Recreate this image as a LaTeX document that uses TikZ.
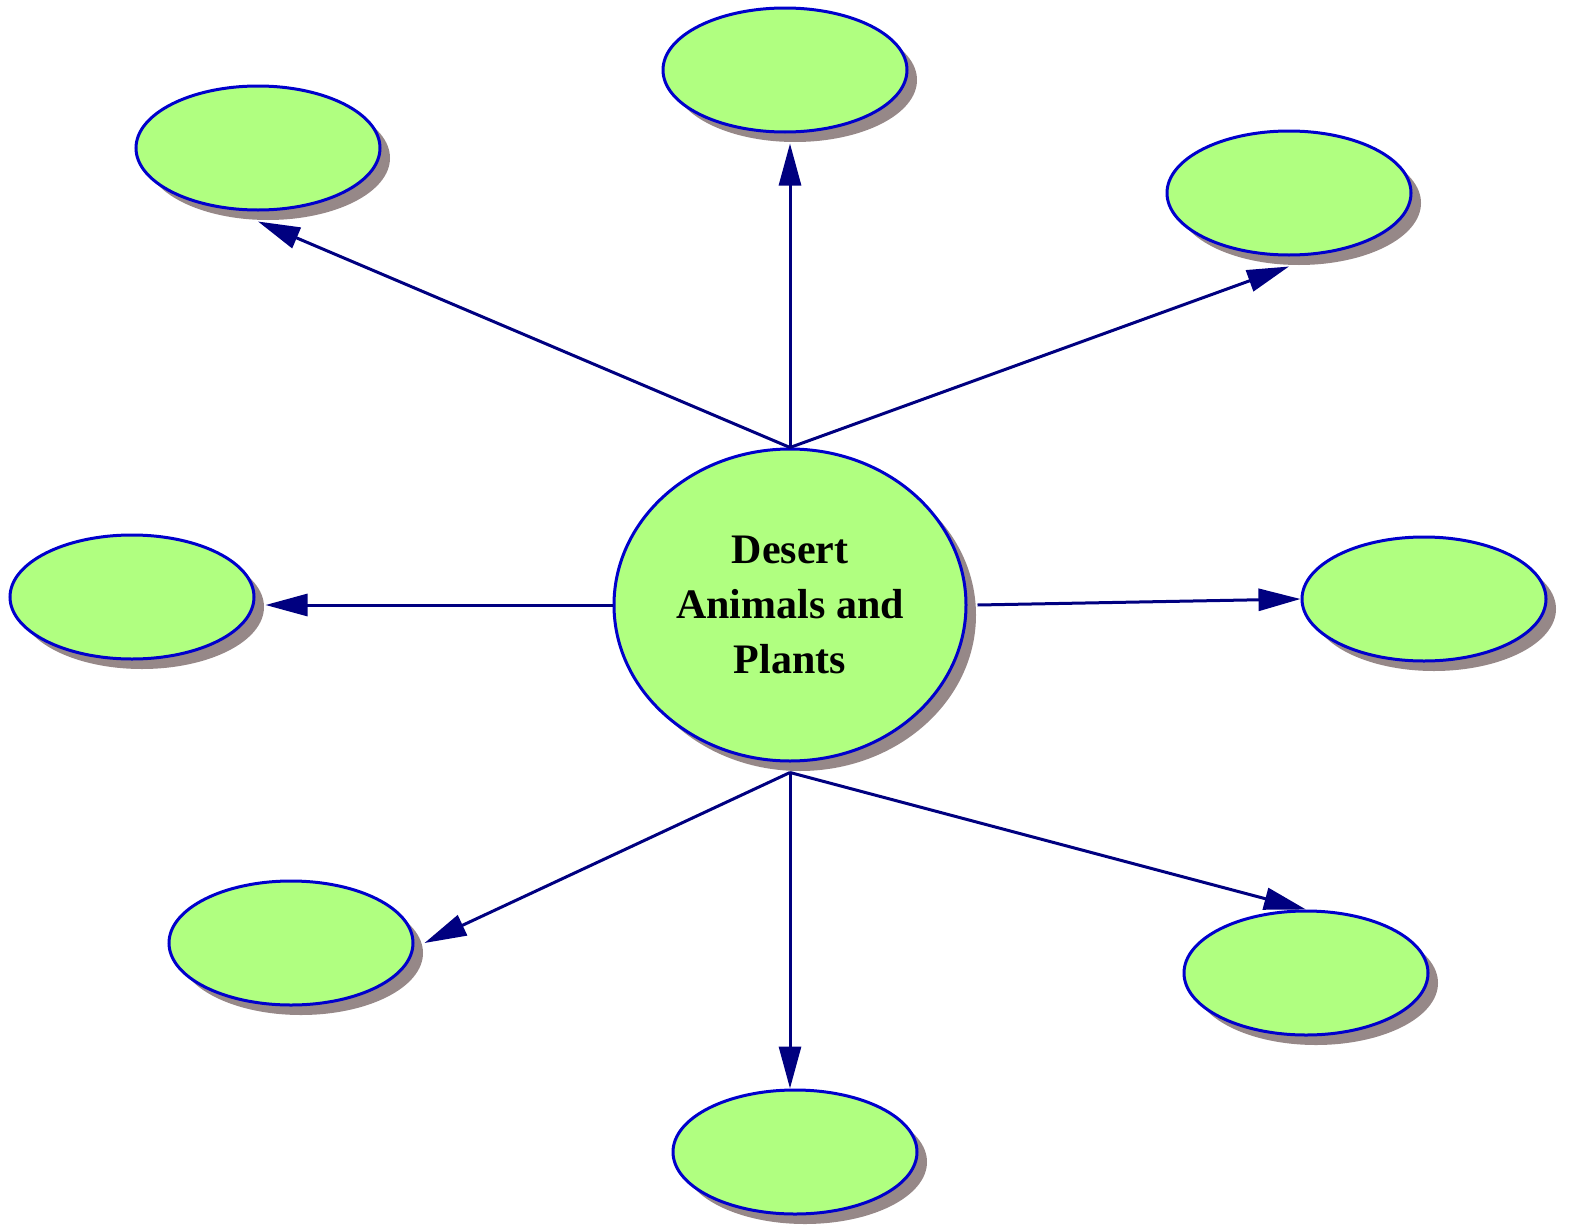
\documentclass[tikz,border=0pt]{standalone}
\usepackage{fontspec}
\setmainfont{Liberation Serif}
\usetikzlibrary{shapes.geometric,shadows,arrows.meta}
\definecolor{bubblegreen}{RGB}{176,255,128}
\definecolor{bubbleblue}{RGB}{0,0,204}
\definecolor{linknavy}{RGB}{0,0,128}
\definecolor{shadowgrey}{RGB}{150,136,136}
\begin{document}
\begin{tikzpicture}[x=0.5pt,y=0.5pt,yscale=-1,
    bubble/.style={ellipse,draw=bubbleblue,fill=bubblegreen,line width=1.5pt,inner sep=0pt,
        minimum width=122pt,minimum height=62pt,
        drop shadow={shadow xshift=5pt,shadow yshift=-5pt,fill=shadowgrey,opacity=1}},
    hub/.style={bubble,minimum width=176pt,minimum height=156pt,align=center,
        font=\fontsize{21}{27.5}\selectfont\bfseries},
    link/.style={draw=linknavy,line width=1.5pt,-{Triangle[length=21pt,width=11pt]}}]
\useasboundingbox (0,0) rectangle (1570,1226);
% centre
\node[hub] (c) at (790,605) {Desert\\Animals and\\Plants};
% satellites
\node[bubble] (top) at (785,70) {};
\node[bubble] (tl) at (258,148) {};
\node[bubble] (tr) at (1289,193) {};
\node[bubble] (lf) at (132,597) {};
\node[bubble] (rt) at (1424,599) {};
\node[bubble] (bl) at (291,943) {};
\node[bubble] (br) at (1306,973) {};
\node[bubble] (bt) at (795,1152) {};
% links
\draw[link,shorten >=5pt] (c.north) -- (c.north |- top.south);
\draw[link] (c.north) -- ([yshift=5pt]tl.south);
\draw[link] (c.north) -- ([yshift=5pt]tr.south);
\draw[link,shorten >=5pt] (c.west) -- (c.west -| lf.east);
\draw[link] ([xshift=5pt]c.east) -- (rt.west);
\draw[link] ([yshift=5pt]c.south) -- ([xshift=5pt]bl.east);
\draw[link] ([yshift=5pt]c.south) -- (c.south |- bt.north);
\draw[link] ([yshift=5pt]c.south) -- (br.north);
\end{tikzpicture}
\end{document}
